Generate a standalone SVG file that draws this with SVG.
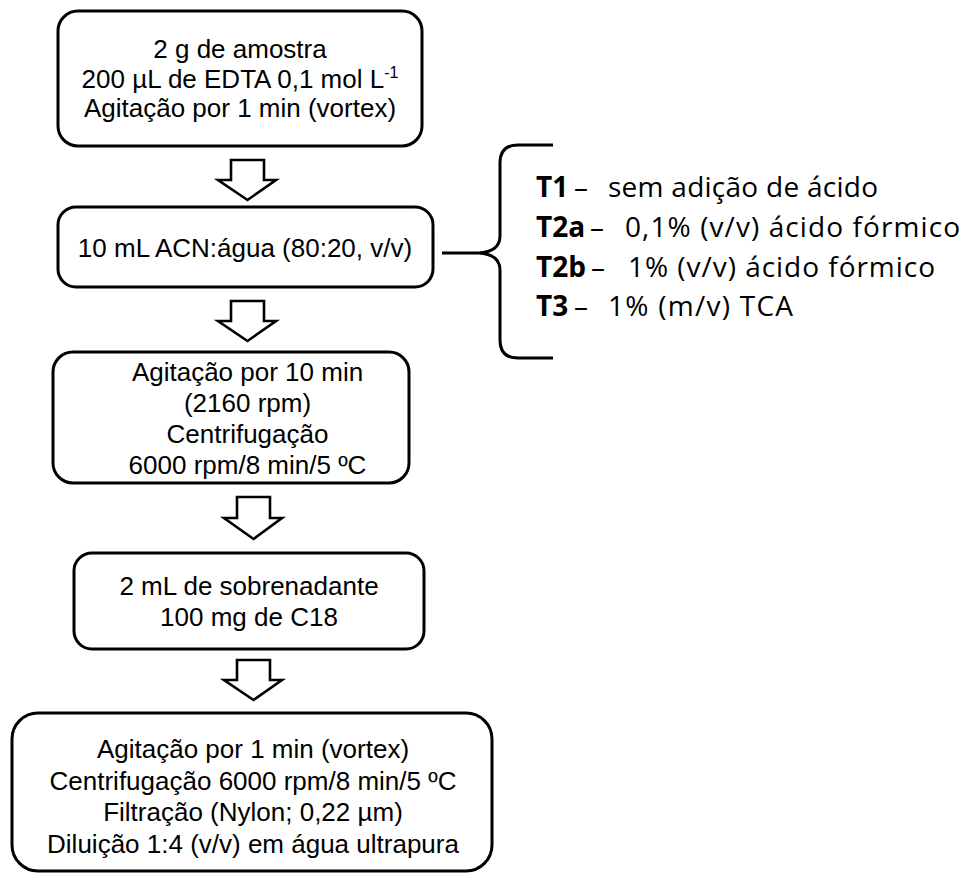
<svg xmlns="http://www.w3.org/2000/svg" width="964" height="876" viewBox="0 0 964 876">
<style>
.box{fill:#fff;stroke:#000;stroke-width:3}
.arr{fill:#fff;stroke:#000;stroke-width:2.6;stroke-linejoin:miter}
.t{font-family:"Liberation Sans",Arial,sans-serif;font-size:26px;fill:#000;text-anchor:middle}
.r{font-family:"Open Sans",Lato,sans-serif;font-size:28px;fill:#000}
.b{font-weight:bold}
.con{fill:none;stroke:#000;stroke-width:3}
</style>
<rect width="964" height="876" fill="#fff"/>
<g id="connectors">
<path class="arr" d="M231,160 H264 V180 H276 L247.5,200 L218,180 H231 Z"/>
<path class="arr" d="M231,301 H264 V321 H276 L247.5,341 L218,321 H231 Z"/>
<path class="arr" d="M237,497 H270 V518 H282 L253.5,539 L224,518 H237 Z"/>
<path class="arr" d="M237,660 H270 V680 H282 L253.5,700 L224,680 H237 Z"/>
<path class="con" d="M442,253 H482"/>
<path class="con" d="M553,145 H518 Q500,145 500,163 V236 Q500,251 480,253 Q500,255 500,270 V340 Q500,358 518,358 H553"/>
</g>
<g id="n1">
<rect class="box" x="58" y="11" width="364" height="135" rx="20"/>
<text class="t" x="240" y="58">2 g de amostra</text>
<text class="t" x="240" y="87.5">200 µL de EDTA 0,1 mol L<tspan font-size="16" dy="-10">-1</tspan></text>
<text class="t" x="240" y="117">Agitação por 1 min (vortex)</text>
</g>
<g id="n2">
<rect class="box" x="58" y="207" width="375" height="80" rx="18"/>
<text class="t" x="245" y="256.5">10 mL ACN:água (80:20, v/v)</text>
</g>
<g id="n3">
<rect class="box" x="53" y="352" width="356" height="131" rx="20"/>
<text class="t" x="247.5" y="381">Agitação por 10 min</text>
<text class="t" x="247.5" y="412">(2160 rpm)</text>
<text class="t" x="247.5" y="443">Centrifugação</text>
<text class="t" x="247.5" y="474">6000 rpm/8 min/5 ºC</text>
</g>
<g id="n4">
<rect class="box" x="74" y="553" width="350" height="96" rx="18"/>
<text class="t" x="249" y="595">2 mL de sobrenadante</text>
<text class="t" x="249" y="626">100 mg de C18</text>
</g>
<g id="n5">
<rect class="box" x="12" y="713" width="480" height="158" rx="26"/>
<text class="t" x="253" y="758">Agitação por 1 min (vortex)</text>
<text class="t" x="253" y="789.5">Centrifugação 6000 rpm/8 min/5 ºC</text>
<text class="t" x="253" y="821">Filtração (Nylon; 0,22 µm)</text>
<text class="t" x="253" y="852.5">Diluição 1:4 (v/v) em água ultrapura</text>
</g>
<g id="treatments">
<text class="r" y="197"><tspan class="b" x="536">T1</tspan><tspan x="574">–</tspan><tspan x="608" textLength="270">sem adição de ácido</tspan></text>
<text class="r" y="237"><tspan class="b" x="536">T2a</tspan><tspan x="590">–</tspan><tspan x="625" textLength="335">0,1% (v/v) ácido fórmico</tspan></text>
<text class="r" y="277"><tspan class="b" x="536">T2b</tspan><tspan x="591">–</tspan><tspan x="628" textLength="307">1% (v/v) ácido fórmico</tspan></text>
<text class="r" y="316"><tspan class="b" x="536">T3</tspan><tspan x="574">–</tspan><tspan x="608" textLength="185">1% (m/v) TCA</tspan></text>
</g>
</svg>
